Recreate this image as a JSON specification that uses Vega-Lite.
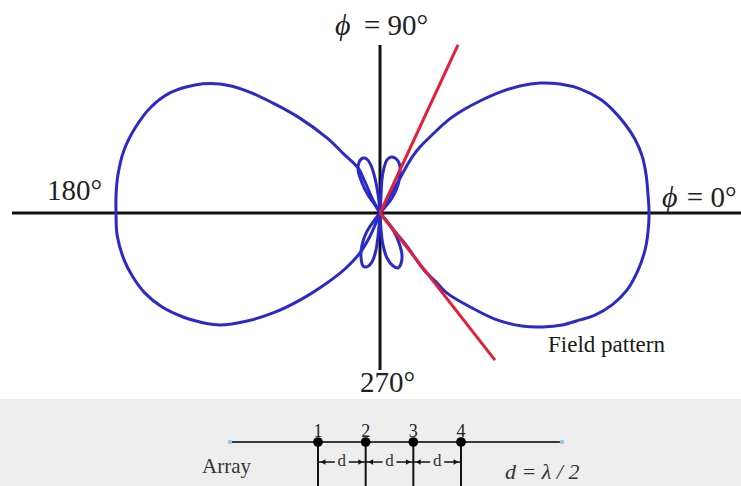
{
  "$schema": "https://vega.github.io/schema/vega-lite/v6.json",
  "padding": 0,
  "spacing": 0,
  "background": "white",
  "config": {"view": {"stroke": null}, "font": "Liberation Serif", "concat": {"spacing": 0}},
  "vconcat": [
    {
      "width": 741,
      "height": 398,
      "data": {
        "values": [
          {"lobe": "right", "i": 1, "x": 0, "y": 0},
          {"lobe": "right", "i": 2, "x": 0.037, "y": 0.063},
          {"lobe": "right", "i": 3, "x": 0.075, "y": 0.131},
          {"lobe": "right", "i": 4, "x": 0.104, "y": 0.183},
          {"lobe": "right", "i": 5, "x": 0.123, "y": 0.213},
          {"lobe": "right", "i": 6, "x": 0.149, "y": 0.246},
          {"lobe": "right", "i": 7, "x": 0.194, "y": 0.291},
          {"lobe": "right", "i": 8, "x": 0.25, "y": 0.343},
          {"lobe": "right", "i": 9, "x": 0.31, "y": 0.384},
          {"lobe": "right", "i": 10, "x": 0.373, "y": 0.418},
          {"lobe": "right", "i": 11, "x": 0.448, "y": 0.451},
          {"lobe": "right", "i": 12, "x": 0.522, "y": 0.474},
          {"lobe": "right", "i": 13, "x": 0.597, "y": 0.485},
          {"lobe": "right", "i": 14, "x": 0.672, "y": 0.481},
          {"lobe": "right", "i": 15, "x": 0.746, "y": 0.463},
          {"lobe": "right", "i": 16, "x": 0.821, "y": 0.425},
          {"lobe": "right", "i": 17, "x": 0.869, "y": 0.384},
          {"lobe": "right", "i": 18, "x": 0.914, "y": 0.332},
          {"lobe": "right", "i": 19, "x": 0.951, "y": 0.276},
          {"lobe": "right", "i": 20, "x": 0.978, "y": 0.213},
          {"lobe": "right", "i": 21, "x": 0.993, "y": 0.142},
          {"lobe": "right", "i": 22, "x": 1.0, "y": 0.067},
          {"lobe": "right", "i": 23, "x": 1.004, "y": 0},
          {"lobe": "right", "i": 24, "x": 1.0, "y": -0.071},
          {"lobe": "right", "i": 25, "x": 0.989, "y": -0.138},
          {"lobe": "right", "i": 26, "x": 0.963, "y": -0.213},
          {"lobe": "right", "i": 27, "x": 0.922, "y": -0.287},
          {"lobe": "right", "i": 28, "x": 0.866, "y": -0.343},
          {"lobe": "right", "i": 29, "x": 0.802, "y": -0.381},
          {"lobe": "right", "i": 30, "x": 0.746, "y": -0.399},
          {"lobe": "right", "i": 31, "x": 0.679, "y": -0.418},
          {"lobe": "right", "i": 32, "x": 0.608, "y": -0.425},
          {"lobe": "right", "i": 33, "x": 0.53, "y": -0.422},
          {"lobe": "right", "i": 34, "x": 0.437, "y": -0.399},
          {"lobe": "right", "i": 35, "x": 0.343, "y": -0.354},
          {"lobe": "right", "i": 36, "x": 0.25, "y": -0.299},
          {"lobe": "right", "i": 37, "x": 0.209, "y": -0.257},
          {"lobe": "right", "i": 38, "x": 0.164, "y": -0.213},
          {"lobe": "right", "i": 39, "x": 0.097, "y": -0.119},
          {"lobe": "right", "i": 40, "x": 0.045, "y": -0.056},
          {"lobe": "right", "i": 41, "x": 0, "y": 0},
          {"lobe": "left", "i": 1, "x": 0, "y": 0},
          {"lobe": "left", "i": 2, "x": -0.03, "y": 0.056},
          {"lobe": "left", "i": 3, "x": -0.056, "y": 0.116},
          {"lobe": "left", "i": 4, "x": -0.082, "y": 0.168},
          {"lobe": "left", "i": 5, "x": -0.131, "y": 0.216},
          {"lobe": "left", "i": 6, "x": -0.198, "y": 0.28},
          {"lobe": "left", "i": 7, "x": -0.299, "y": 0.354},
          {"lobe": "left", "i": 8, "x": -0.399, "y": 0.41},
          {"lobe": "left", "i": 9, "x": -0.496, "y": 0.455},
          {"lobe": "left", "i": 10, "x": -0.597, "y": 0.481},
          {"lobe": "left", "i": 11, "x": -0.69, "y": 0.478},
          {"lobe": "left", "i": 12, "x": -0.784, "y": 0.448},
          {"lobe": "left", "i": 13, "x": -0.858, "y": 0.392},
          {"lobe": "left", "i": 14, "x": -0.914, "y": 0.317},
          {"lobe": "left", "i": 15, "x": -0.955, "y": 0.235},
          {"lobe": "left", "i": 16, "x": -0.978, "y": 0.142},
          {"lobe": "left", "i": 17, "x": -0.985, "y": 0.067},
          {"lobe": "left", "i": 18, "x": -0.985, "y": 0},
          {"lobe": "left", "i": 19, "x": -0.981, "y": -0.082},
          {"lobe": "left", "i": 20, "x": -0.955, "y": -0.175},
          {"lobe": "left", "i": 21, "x": -0.922, "y": -0.239},
          {"lobe": "left", "i": 22, "x": -0.877, "y": -0.299},
          {"lobe": "left", "i": 23, "x": -0.813, "y": -0.351},
          {"lobe": "left", "i": 24, "x": -0.735, "y": -0.388},
          {"lobe": "left", "i": 25, "x": -0.672, "y": -0.407},
          {"lobe": "left", "i": 26, "x": -0.597, "y": -0.418},
          {"lobe": "left", "i": 27, "x": -0.496, "y": -0.403},
          {"lobe": "left", "i": 28, "x": -0.399, "y": -0.373},
          {"lobe": "left", "i": 29, "x": -0.299, "y": -0.325},
          {"lobe": "left", "i": 30, "x": -0.198, "y": -0.261},
          {"lobe": "left", "i": 31, "x": -0.131, "y": -0.209},
          {"lobe": "left", "i": 32, "x": -0.075, "y": -0.149},
          {"lobe": "left", "i": 33, "x": -0.037, "y": -0.086},
          {"lobe": "left", "i": 34, "x": 0, "y": 0},
          {"lobe": "sideUR", "i": 1, "x": 0, "y": 0},
          {"lobe": "sideUR", "i": 2, "x": 0.004, "y": 0.067},
          {"lobe": "sideUR", "i": 3, "x": 0.007, "y": 0.123},
          {"lobe": "sideUR", "i": 4, "x": 0.015, "y": 0.168},
          {"lobe": "sideUR", "i": 5, "x": 0.026, "y": 0.198},
          {"lobe": "sideUR", "i": 6, "x": 0.041, "y": 0.209},
          {"lobe": "sideUR", "i": 7, "x": 0.056, "y": 0.205},
          {"lobe": "sideUR", "i": 8, "x": 0.071, "y": 0.187},
          {"lobe": "sideUR", "i": 9, "x": 0.075, "y": 0.153},
          {"lobe": "sideUR", "i": 10, "x": 0.067, "y": 0.104},
          {"lobe": "sideUR", "i": 11, "x": 0.045, "y": 0.056},
          {"lobe": "sideUR", "i": 12, "x": 0.019, "y": 0.022},
          {"lobe": "sideUR", "i": 13, "x": 0, "y": 0},
          {"lobe": "sideUL", "i": 1, "x": 0, "y": 0},
          {"lobe": "sideUL", "i": 2, "x": -0.019, "y": 0.03},
          {"lobe": "sideUL", "i": 3, "x": -0.045, "y": 0.067},
          {"lobe": "sideUL", "i": 4, "x": -0.067, "y": 0.112},
          {"lobe": "sideUL", "i": 5, "x": -0.082, "y": 0.16},
          {"lobe": "sideUL", "i": 6, "x": -0.078, "y": 0.19},
          {"lobe": "sideUL", "i": 7, "x": -0.063, "y": 0.205},
          {"lobe": "sideUL", "i": 8, "x": -0.049, "y": 0.201},
          {"lobe": "sideUL", "i": 9, "x": -0.034, "y": 0.179},
          {"lobe": "sideUL", "i": 10, "x": -0.019, "y": 0.131},
          {"lobe": "sideUL", "i": 11, "x": -0.007, "y": 0.067},
          {"lobe": "sideUL", "i": 12, "x": 0, "y": 0},
          {"lobe": "sideLR", "i": 1, "x": 0, "y": 0},
          {"lobe": "sideLR", "i": 2, "x": 0.004, "y": -0.063},
          {"lobe": "sideLR", "i": 3, "x": 0.011, "y": -0.119},
          {"lobe": "sideLR", "i": 4, "x": 0.026, "y": -0.168},
          {"lobe": "sideLR", "i": 5, "x": 0.049, "y": -0.198},
          {"lobe": "sideLR", "i": 6, "x": 0.067, "y": -0.205},
          {"lobe": "sideLR", "i": 7, "x": 0.078, "y": -0.19},
          {"lobe": "sideLR", "i": 8, "x": 0.082, "y": -0.157},
          {"lobe": "sideLR", "i": 9, "x": 0.071, "y": -0.112},
          {"lobe": "sideLR", "i": 10, "x": 0.049, "y": -0.063},
          {"lobe": "sideLR", "i": 11, "x": 0.022, "y": -0.026},
          {"lobe": "sideLR", "i": 12, "x": 0, "y": 0},
          {"lobe": "sideLL", "i": 1, "x": 0, "y": 0},
          {"lobe": "sideLL", "i": 2, "x": -0.026, "y": -0.034},
          {"lobe": "sideLL", "i": 3, "x": -0.052, "y": -0.075},
          {"lobe": "sideLL", "i": 4, "x": -0.067, "y": -0.119},
          {"lobe": "sideLL", "i": 5, "x": -0.071, "y": -0.164},
          {"lobe": "sideLL", "i": 6, "x": -0.063, "y": -0.198},
          {"lobe": "sideLL", "i": 7, "x": -0.049, "y": -0.201},
          {"lobe": "sideLL", "i": 8, "x": -0.03, "y": -0.183},
          {"lobe": "sideLL", "i": 9, "x": -0.015, "y": -0.138},
          {"lobe": "sideLL", "i": 10, "x": -0.007, "y": -0.082},
          {"lobe": "sideLL", "i": 11, "x": 0, "y": 0}
        ]
      },
      "layer": [
        {
          "data": {"values": [{}]},
          "mark": {"type": "rule", "color": "#111111", "strokeWidth": 3},
          "encoding": {
            "x": {"datum": -1.373, "type": "quantitative", "scale": {"domain": [-1.418, 1.347], "nice": false, "zero": false}, "axis": null},
            "x2": {"datum": 1.347},
            "y": {"datum": 0, "type": "quantitative", "scale": {"domain": [-0.6903, 0.7948], "nice": false, "zero": false}, "axis": null}
          }
        },
        {
          "data": {"values": [{}]},
          "mark": {"type": "rule", "color": "#111111", "strokeWidth": 3},
          "encoding": {
            "x": {"datum": 0, "type": "quantitative", "axis": null},
            "y": {"datum": 0.627, "type": "quantitative", "axis": null},
            "y2": {"datum": -0.586}
          }
        },
        {
          "mark": {"type": "line", "color": "#2a2ac8", "strokeWidth": 3, "interpolate": "catmull-rom"},
          "encoding": {
            "x": {"field": "x", "type": "quantitative", "axis": null},
            "y": {"field": "y", "type": "quantitative", "axis": null},
            "detail": {"field": "lobe"},
            "order": {"field": "i", "type": "quantitative"}
          }
        },
        {
          "data": {"values": [{}]},
          "mark": {"type": "rule", "color": "#e3203a", "strokeWidth": 3},
          "encoding": {
            "x": {"datum": 0, "type": "quantitative", "axis": null},
            "y": {"datum": 0, "type": "quantitative", "axis": null},
            "x2": {"datum": 0.291},
            "y2": {"datum": 0.627}
          }
        },
        {
          "data": {"values": [{}]},
          "mark": {"type": "rule", "color": "#e3203a", "strokeWidth": 3},
          "encoding": {
            "x": {"datum": 0, "type": "quantitative", "axis": null},
            "y": {"datum": 0, "type": "quantitative", "axis": null},
            "x2": {"datum": 0.429},
            "y2": {"datum": -0.549}
          }
        },
        {
          "data": {"values": [{}]},
          "mark": {"type": "text", "text": "ϕ", "font": "Liberation Serif, DejaVu Serif", "fontStyle": "italic", "fontSize": 30, "align": "left", "baseline": "alphabetic", "color": "#222222"},
          "encoding": {
            "x": {"datum": -0.168, "type": "quantitative", "axis": null},
            "y": {"datum": 0.664, "type": "quantitative", "axis": null}
          }
        },
        {
          "data": {"values": [{}]},
          "mark": {"type": "text", "text": "= 90°", "fontSize": 29, "align": "left", "baseline": "alphabetic", "color": "#222222"},
          "encoding": {
            "x": {"datum": -0.06, "type": "quantitative", "axis": null},
            "y": {"datum": 0.664, "type": "quantitative", "axis": null}
          }
        },
        {
          "data": {"values": [{}]},
          "mark": {"type": "text", "text": "180°", "fontSize": 29, "align": "left", "baseline": "alphabetic", "color": "#222222"},
          "encoding": {
            "x": {"datum": -1.243, "type": "quantitative", "axis": null},
            "y": {"datum": 0.0485, "type": "quantitative", "axis": null}
          }
        },
        {
          "data": {"values": [{}]},
          "mark": {"type": "text", "text": "ϕ", "font": "Liberation Serif, DejaVu Serif", "fontStyle": "italic", "fontSize": 30, "align": "left", "baseline": "alphabetic", "color": "#222222"},
          "encoding": {
            "x": {"datum": 1.052, "type": "quantitative", "axis": null},
            "y": {"datum": 0.022, "type": "quantitative", "axis": null}
          }
        },
        {
          "data": {"values": [{}]},
          "mark": {"type": "text", "text": "= 0°", "fontSize": 29, "align": "left", "baseline": "alphabetic", "color": "#222222"},
          "encoding": {
            "x": {"datum": 1.145, "type": "quantitative", "axis": null},
            "y": {"datum": 0.022, "type": "quantitative", "axis": null}
          }
        },
        {
          "data": {"values": [{}]},
          "mark": {"type": "text", "text": "270°", "fontSize": 29, "align": "left", "baseline": "alphabetic", "color": "#222222"},
          "encoding": {
            "x": {"datum": -0.075, "type": "quantitative", "axis": null},
            "y": {"datum": -0.668, "type": "quantitative", "axis": null}
          }
        },
        {
          "data": {"values": [{}]},
          "mark": {"type": "text", "text": "Field pattern", "fontSize": 23, "align": "left", "baseline": "alphabetic", "color": "#1a1a1a"},
          "encoding": {
            "x": {"datum": 0.627, "type": "quantitative", "axis": null},
            "y": {"datum": -0.519, "type": "quantitative", "axis": null}
          }
        }
      ]
    },
    {
      "width": 741,
      "height": 88,
      "view": {"fill": "#eeeeee", "stroke": null},
      "layer": [
        {
          "data": {"values": [{}]},
          "mark": {"type": "rule", "color": "#3a3a3a", "strokeWidth": 2},
          "encoding": {
            "x": {"datum": -1.846, "type": "quantitative", "scale": {"domain": [-6.671, 8.874], "nice": false, "zero": false}, "axis": null},
            "x2": {"datum": 5.118},
            "y": {"datum": 0, "type": "quantitative", "scale": {"domain": [-0.944, 0.902], "nice": false, "zero": false}, "axis": null}
          }
        },
        {
          "data": {"values": [{"end": -1.846}, {"end": 5.118}]},
          "mark": {"type": "point", "filled": true, "color": "#8fc3ea", "size": 20, "opacity": 1},
          "encoding": {
            "x": {"field": "end", "type": "quantitative", "axis": null},
            "y": {"datum": 0, "type": "quantitative", "axis": null}
          }
        },
        {
          "data": {"values": [{"n": "1", "pos": 0}, {"n": "2", "pos": 1}, {"n": "3", "pos": 2}, {"n": "4", "pos": 3}]},
          "mark": {"type": "rule", "color": "#111111", "strokeWidth": 2},
          "encoding": {
            "x": {"field": "pos", "type": "quantitative", "axis": null},
            "y": {"datum": 0, "type": "quantitative", "axis": null},
            "y2": {"datum": -0.944}
          }
        },
        {
          "data": {"values": [{"n": "1", "pos": 0}, {"n": "2", "pos": 1}, {"n": "3", "pos": 2}, {"n": "4", "pos": 3}]},
          "mark": {"type": "point", "filled": true, "color": "#000000", "size": 95, "opacity": 1},
          "encoding": {
            "x": {"field": "pos", "type": "quantitative", "axis": null},
            "y": {"datum": 0, "type": "quantitative", "axis": null}
          }
        },
        {
          "data": {"values": [{"n": "1", "pos": 0}, {"n": "2", "pos": 1}, {"n": "3", "pos": 2}, {"n": "4", "pos": 3}]},
          "mark": {"type": "text", "fontSize": 18, "align": "center", "baseline": "alphabetic", "color": "#222222"},
          "encoding": {
            "x": {"field": "pos", "type": "quantitative", "axis": null},
            "y": {"datum": 0.105, "type": "quantitative", "axis": null},
            "text": {"field": "n"}
          }
        },
        {
          "data": {"values": [{"from": 0, "to": 1, "mid": 0.5}, {"from": 1, "to": 2, "mid": 1.5}, {"from": 2, "to": 3, "mid": 2.5}]},
          "mark": {"type": "rule", "color": "#111111", "strokeWidth": 1.5, "x2Offset": -7},
          "encoding": {
            "x": {"field": "from", "type": "quantitative", "axis": null},
            "x2": {"field": "mid"},
            "y": {"datum": -0.42, "type": "quantitative", "axis": null}
          }
        },
        {
          "data": {"values": [{"from": 0, "to": 1, "mid": 0.5}, {"from": 1, "to": 2, "mid": 1.5}, {"from": 2, "to": 3, "mid": 2.5}]},
          "mark": {"type": "rule", "color": "#111111", "strokeWidth": 1.5, "xOffset": 7},
          "encoding": {
            "x": {"field": "mid", "type": "quantitative", "axis": null},
            "x2": {"field": "to"},
            "y": {"datum": -0.42, "type": "quantitative", "axis": null}
          }
        },
        {
          "data": {"values": [{"from": 0, "to": 1, "mid": 0.5}, {"from": 1, "to": 2, "mid": 1.5}, {"from": 2, "to": 3, "mid": 2.5}]},
          "mark": {"type": "point", "shape": "triangle-left", "filled": true, "color": "#111111", "size": 30, "opacity": 1, "xOffset": 5},
          "encoding": {
            "x": {"field": "from", "type": "quantitative", "axis": null},
            "y": {"datum": -0.42, "type": "quantitative", "axis": null}
          }
        },
        {
          "data": {"values": [{"from": 0, "to": 1, "mid": 0.5}, {"from": 1, "to": 2, "mid": 1.5}, {"from": 2, "to": 3, "mid": 2.5}]},
          "mark": {"type": "point", "shape": "triangle-right", "filled": true, "color": "#111111", "size": 30, "opacity": 1, "xOffset": -5},
          "encoding": {
            "x": {"field": "to", "type": "quantitative", "axis": null},
            "y": {"datum": -0.42, "type": "quantitative", "axis": null}
          }
        },
        {
          "data": {"values": [{"from": 0, "to": 1, "mid": 0.5}, {"from": 1, "to": 2, "mid": 1.5}, {"from": 2, "to": 3, "mid": 2.5}]},
          "mark": {"type": "text", "text": "d", "fontSize": 17, "align": "center", "baseline": "alphabetic", "color": "#333333"},
          "encoding": {
            "x": {"field": "mid", "type": "quantitative", "axis": null},
            "y": {"datum": -0.5, "type": "quantitative", "axis": null}
          }
        },
        {
          "data": {"values": [{}]},
          "mark": {"type": "text", "text": "Array", "fontSize": 21, "align": "left", "baseline": "alphabetic", "color": "#333333"},
          "encoding": {
            "x": {"datum": -2.433, "type": "quantitative", "axis": null},
            "y": {"datum": -0.65, "type": "quantitative", "axis": null}
          }
        },
        {
          "data": {"values": [{}]},
          "mark": {"type": "text", "text": "d = λ / 2", "fontStyle": "italic", "fontSize": 22, "align": "left", "baseline": "alphabetic", "color": "#333333"},
          "encoding": {
            "x": {"datum": 3.923, "type": "quantitative", "axis": null},
            "y": {"datum": -0.776, "type": "quantitative", "axis": null}
          }
        }
      ]
    }
  ]
}
